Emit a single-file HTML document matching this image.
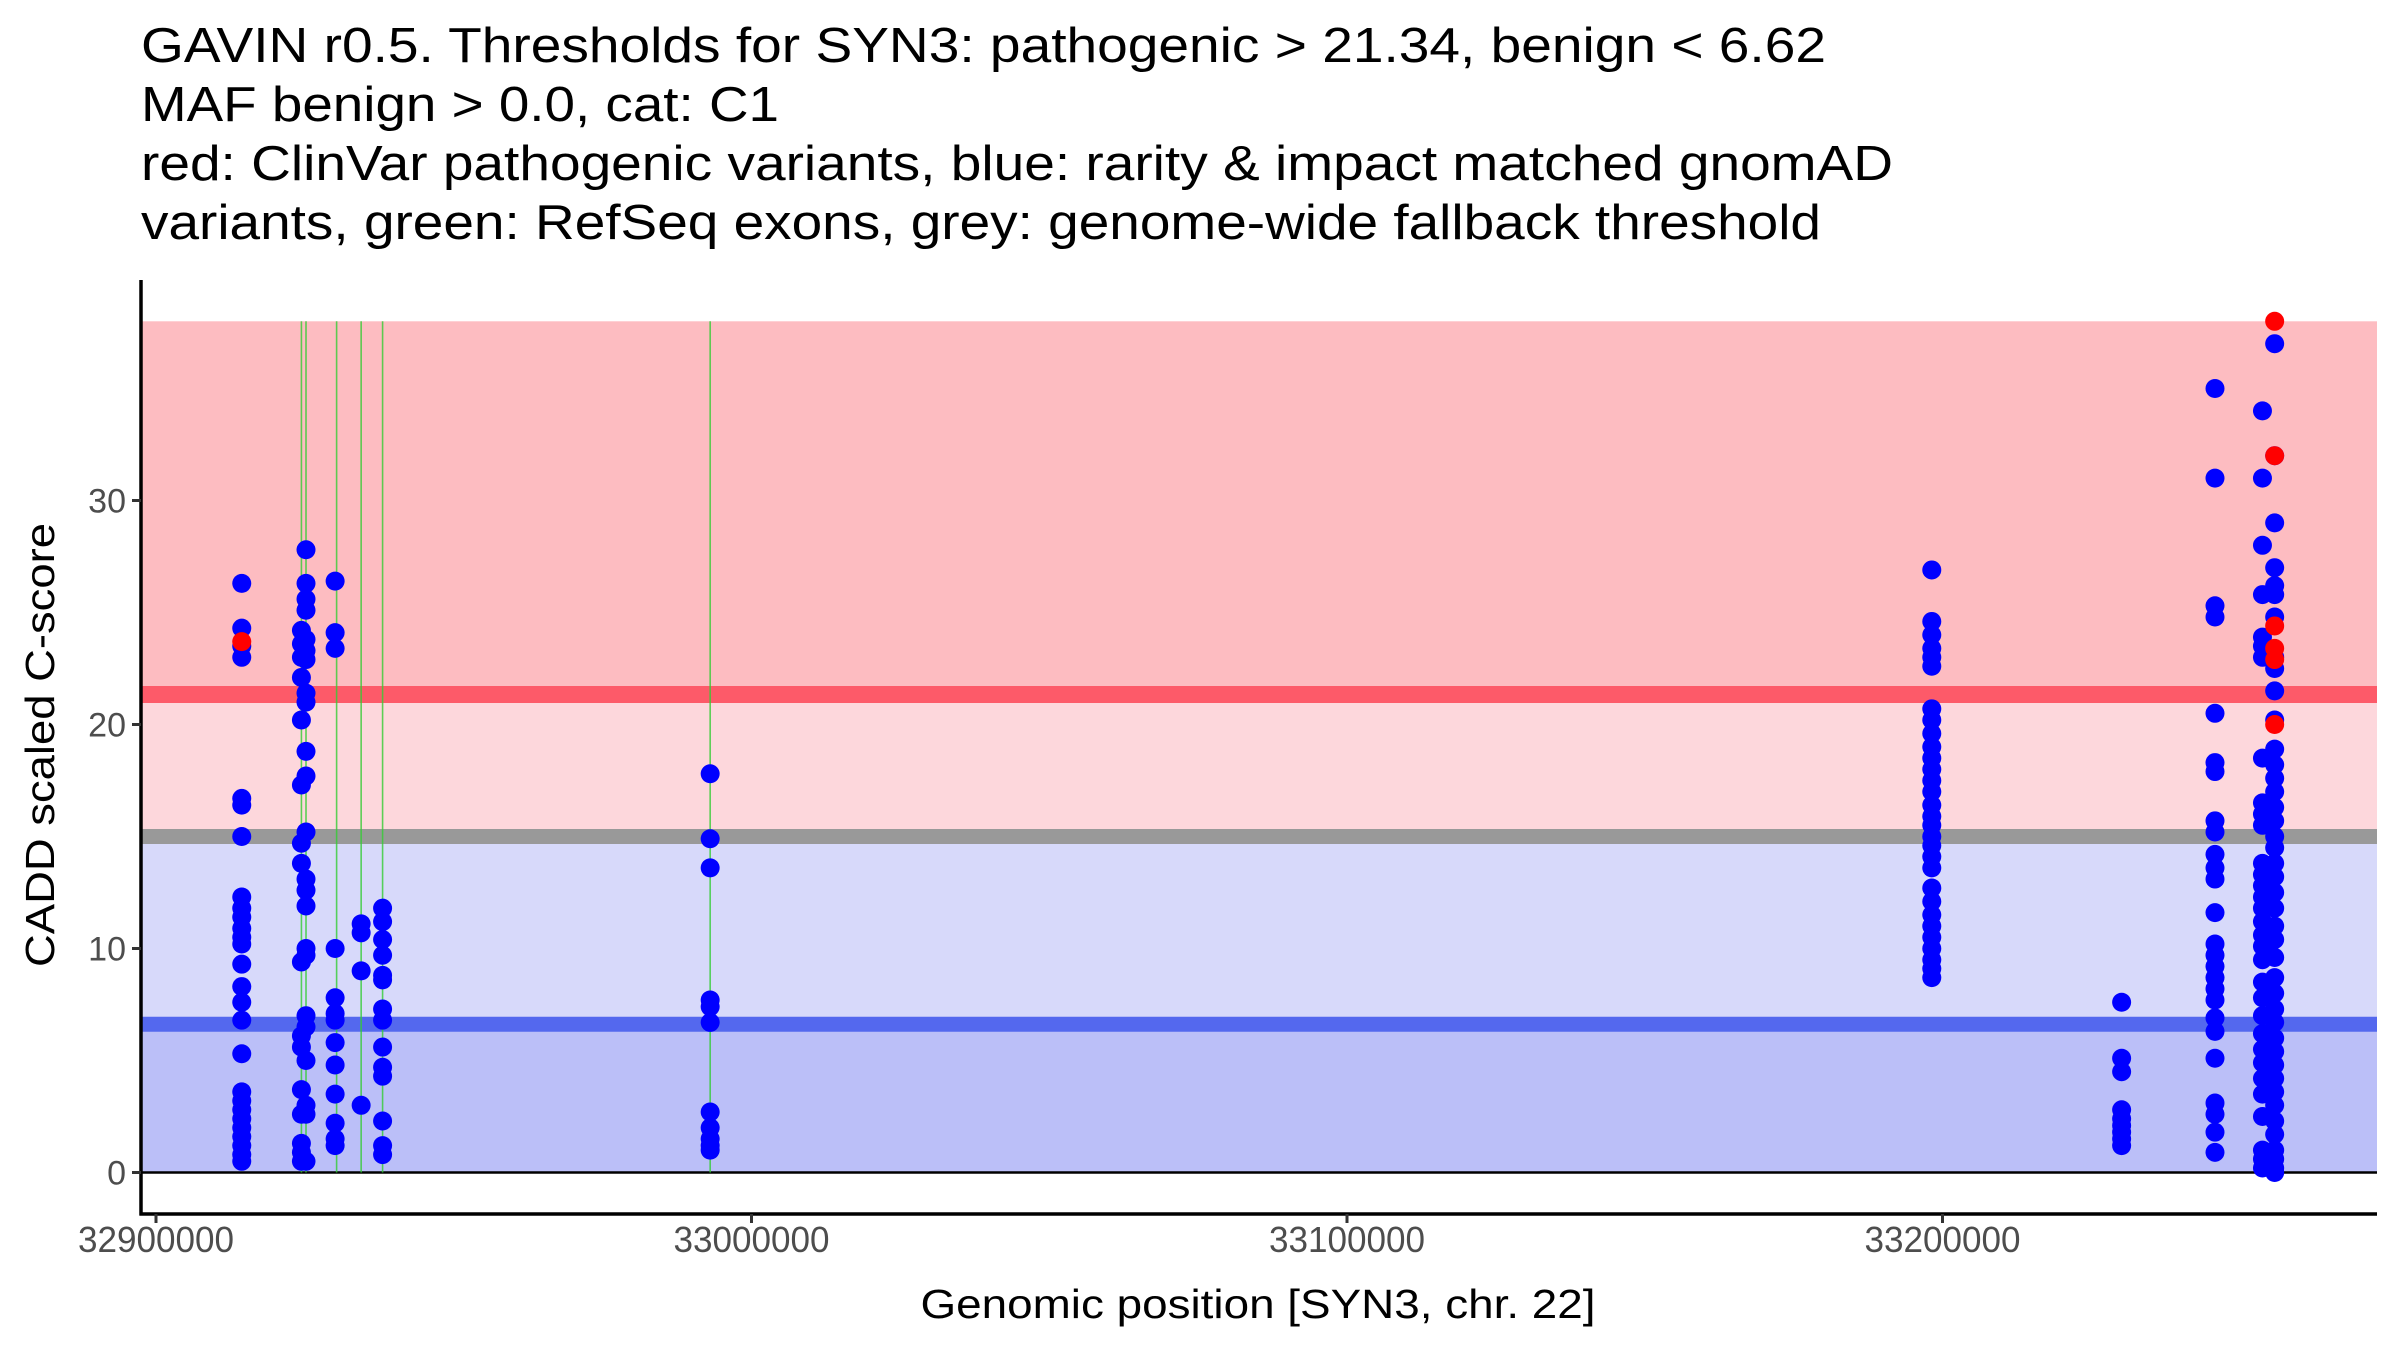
<!DOCTYPE html>
<html><head><meta charset="utf-8"><style>html,body{margin:0;padding:0;background:#fff}svg{display:block}text{font-family:"Liberation Sans",Arial,sans-serif}</style></head>
<body>
<svg id="chart" width="2400" height="1350" viewBox="0 0 2400 1350" xmlns="http://www.w3.org/2000/svg">
<g font-size="49" fill="#000">
<text x="141" y="62" textLength="1685" lengthAdjust="spacingAndGlyphs">GAVIN r0.5. Thresholds for SYN3: pathogenic &gt; 21.34, benign &lt; 6.62</text>
<text x="141" y="121" textLength="638" lengthAdjust="spacingAndGlyphs">MAF benign &gt; 0.0, cat: C1</text>
<text x="141" y="180" textLength="1752" lengthAdjust="spacingAndGlyphs">red: ClinVar pathogenic variants, blue: rarity &amp; impact matched gnomAD</text>
<text x="141" y="239" textLength="1680" lengthAdjust="spacingAndGlyphs">variants, green: RefSeq exons, grey: genome-wide fallback threshold</text>
</g>
<g id="bands"></g><g id="exons"></g><g id="pts"></g><g id="axes"></g>
</svg>
<script>
const NS="http://www.w3.org/2000/svg";
const xTicks=[32900000,33000000,33100000,33200000];
const yTicks=[0,10,20,30];
const pathoThr=21.34, benignThr=6.62, fallbackThr=15.0, yMax=38;
const exonPositions=[32924420,32925190,32930330,32934450,32938050,32993060];
const clusterPos=[32914400,32924420,32925190,32930080,32934450,32938050,32993060,33198200,33230080,33245760,33253730,33255780];
const blueValues=[
[26.3,24.3,23.5,23.0,16.7,16.4,15.0,12.3,11.8,11.4,10.9,10.5,10.2,9.3,8.3,7.6,6.8,5.3,3.6,3.2,2.8,2.4,2.0,1.6,1.2,0.8,0.5],
[24.2,23.6,23.0,22.1,20.2,17.3,14.7,13.8,9.4,6.1,5.6,3.7,2.6,1.3,0.9,0.5],
[27.8,26.3,25.6,25.1,23.8,23.3,22.9,21.4,21.0,18.8,17.7,15.2,13.1,12.6,11.9,10.0,9.7,7.0,6.5,5.0,3.0,2.6,0.5],
[26.4,24.1,23.4,10.0,7.8,7.1,6.8,5.8,4.8,3.5,2.2,1.5,1.2],
[11.1,10.7,9.0,3.0],
[11.8,11.2,10.4,9.7,8.8,8.6,7.3,6.8,5.6,4.7,4.3,2.3,1.2,0.8],
[17.8,14.9,13.6,7.7,7.4,6.7,2.7,2.0,1.5,1.2,1.0],
[26.9,24.6,24.0,23.4,23.0,22.6,20.7,20.2,19.6,19.0,18.5,18.0,17.5,17.0,16.4,15.9,15.5,15.0,14.6,14.1,13.6,12.7,12.1,11.5,11.0,10.5,10.0,9.5,9.1,8.7],
[7.6,5.1,4.5,2.8,2.4,2.1,1.8,1.5,1.2],
[35.0,31.0,25.3,24.8,20.5,18.3,17.9,15.7,15.2,14.2,13.6,13.1,11.6,10.2,9.7,9.2,8.7,8.2,7.7,6.9,6.3,5.1,3.1,2.6,1.8,0.9],
[34.0,31.0,28.0,25.8,23.9,23.5,23.0,18.5,16.5,16.0,15.5,13.8,13.3,12.8,12.3,11.8,11.2,10.6,10.1,9.5,8.5,7.8,7.0,6.2,5.5,4.9,4.2,3.5,2.5,1.0,0.6,0.2],
[37.0,32.0,29.0,27.0,26.2,25.8,24.8,23.0,22.5,21.5,20.2,18.9,18.2,17.6,17.0,16.3,15.7,15.0,14.5,13.8,13.2,12.5,11.8,11.0,10.4,9.6,8.7,8.0,7.3,6.7,6.0,5.4,4.8,4.2,3.6,3.0,2.3,1.7,1.0,0.6,0.2,0.0]
];
const redPos=[32914400,33255780,33255780,33255780,33255780,33255780,33255780];
const redValues=[23.7,38.0,32.0,24.4,23.4,22.9,20.0];

const L=141,R=2377,T=280,B=1214;
const X0=32900000,XPX=156,XSC=595.5/100000;
const Y0PX=1172.5,YSC=22.4;
const xS=v=>XPX+(v-X0)*XSC, yS=v=>Y0PX-v*YSC;
function mk(tag,attrs,parent){const e=document.createElementNS(NS,tag);for(const k in attrs)e.setAttribute(k,attrs[k]);parent.appendChild(e);return e;}
const bands=document.getElementById('bands');
function band(a,b,fill,name){const e=mk('rect',{x:L,y:yS(b),width:R-L,height:yS(a)-yS(b),fill:fill},bands);

}
band(pathoThr,yMax,'#fdbcc1','pathogenic-band');
band(fallbackThr,pathoThr,'#fdd7dc','intermediate-upper-band');
band(benignThr,fallbackThr,'#d7d9fa','intermediate-lower-band');
band(0,benignThr,'#bbbff8','benign-band');
function hline(v,col,w,name){const e=mk('line',{x1:L,x2:R,y1:yS(v),y2:yS(v),stroke:col,'stroke-width':w},bands);

}
hline(pathoThr,'#fd5a69',17,'pathogenic-threshold-line');
hline(fallbackThr,'#999999',15,'fallback-threshold-line');
hline(benignThr,'#5468ee',15,'benign-threshold-line');
hline(0,'#000',2.5,'zero-line');
const ex=document.getElementById('exons');
exonPositions.forEach(p=>{const e=mk('line',{x1:xS(p),x2:xS(p),y1:yS(yMax),y2:yS(0),stroke:'#33cc33','stroke-width':1.6,'stroke-opacity':0.8},ex);

});
const pts=document.getElementById('pts');
clusterPos.forEach((p,i)=>blueValues[i].forEach(v=>{const c=mk('circle',{cx:xS(p),cy:yS(v),r:9.5,fill:'#0000ff'},pts);

}));
redPos.forEach((p,i)=>{const c=mk('circle',{cx:xS(p),cy:yS(redValues[i]),r:9.5,fill:'#ff0000'},pts);

});
const ax=document.getElementById('axes');
const yl=mk('line',{x1:L,x2:L,y1:T,y2:B+1.5,stroke:'#000','stroke-width':3.5},ax);


const xl=mk('line',{x1:L-1.5,x2:R,y1:B,y2:B,stroke:'#000','stroke-width':3.5},ax);


xTicks.forEach(t=>{const x=xS(t);
const tk=mk('line',{x1:x,x2:x,y1:B,y2:B+9,stroke:'#333','stroke-width':3},ax);


const tx=mk('text',{x:x,y:1252,'text-anchor':'middle','font-size':36,fill:'#4d4d4d',textLength:156,lengthAdjust:'spacingAndGlyphs'},ax);tx.textContent=String(t);

});
yTicks.forEach(t=>{const y=yS(t);
const tk=mk('line',{x1:L-9,x2:L,y1:y,y2:y,stroke:'#333','stroke-width':3},ax);


const tx=mk('text',{x:L-15,y:y+12,'text-anchor':'end','font-size':34,fill:'#4d4d4d'},ax);tx.textContent=String(t);

});
const xt=mk('text',{x:1258,y:1318,'text-anchor':'middle','font-size':41,fill:'#000',textLength:675,lengthAdjust:'spacingAndGlyphs'},ax);xt.textContent='Genomic position [SYN3, chr. 22]';


const yt=mk('text',{x:0,y:0,'text-anchor':'middle','font-size':41,fill:'#000',textLength:444,lengthAdjust:'spacingAndGlyphs',transform:'translate(54,745) rotate(-90)'},ax);yt.textContent='CADD scaled C-score';


</script>
</body></html>
